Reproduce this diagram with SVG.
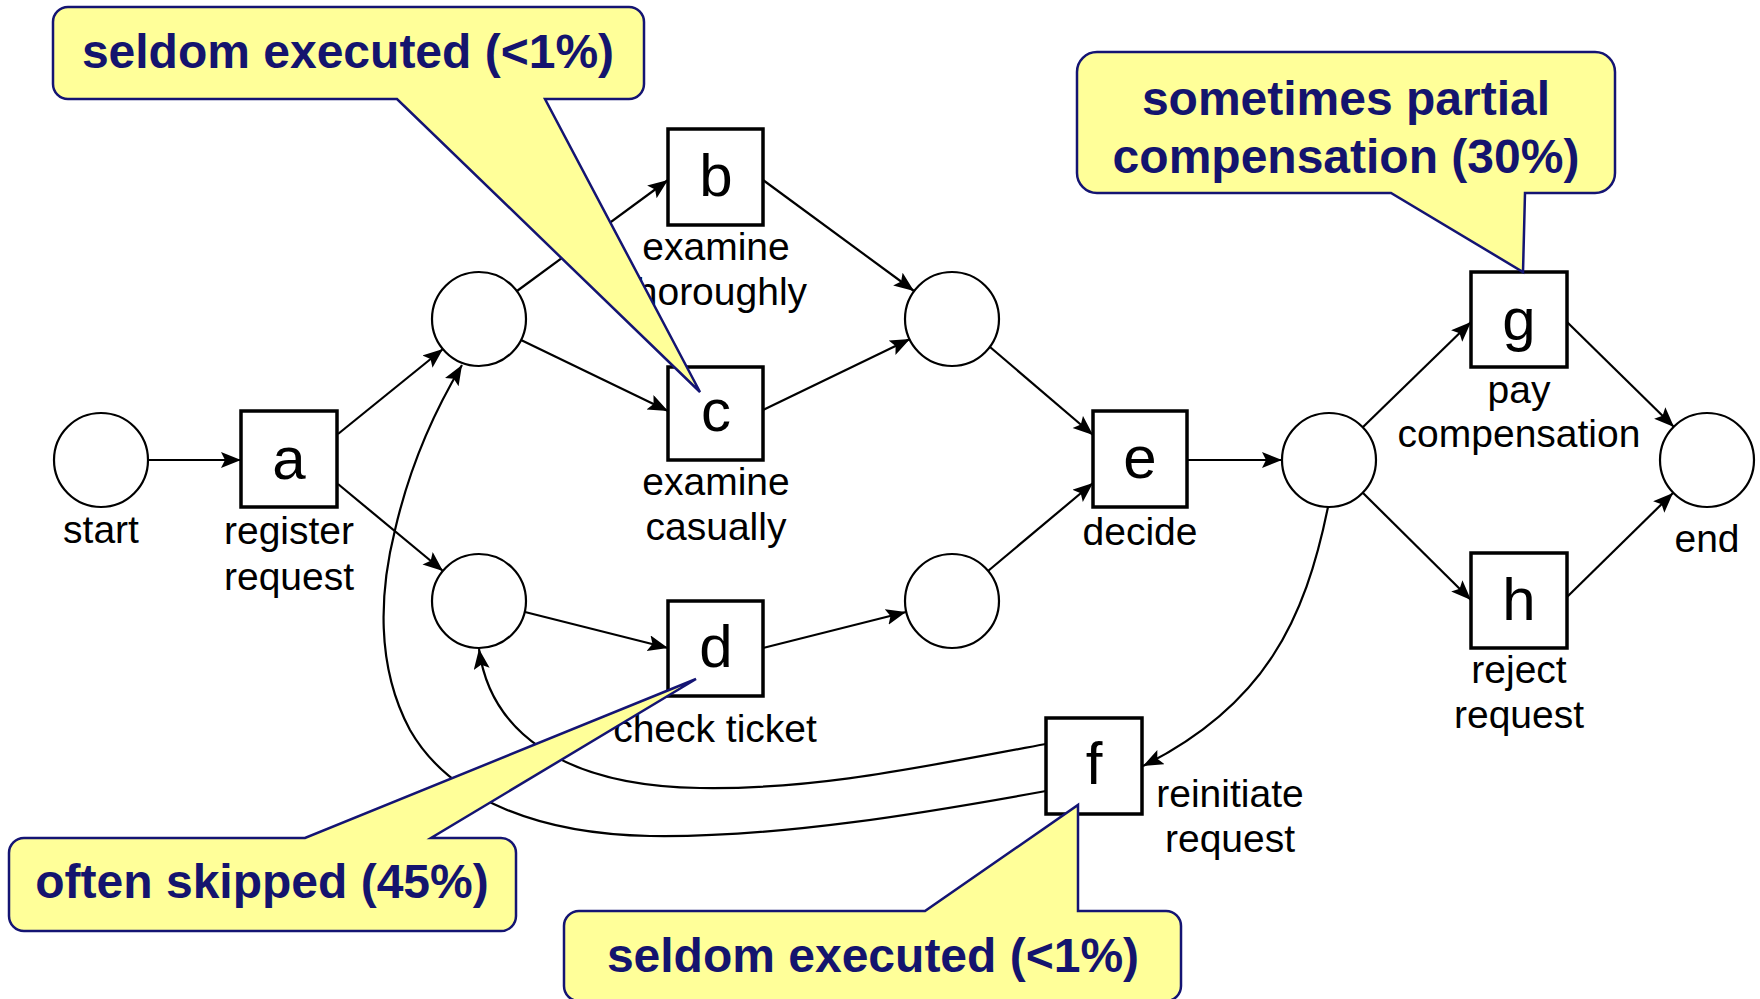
<svg xmlns="http://www.w3.org/2000/svg" width="1760" height="999" viewBox="0 0 1760 999">
<style>
.place{fill:#fff;stroke:#000;stroke-width:2.2}
.trans{fill:#fff;stroke:#000;stroke-width:3.5}
.arc{fill:none;stroke:#000;stroke-width:2.2;marker-end:url(#ah)}
.lbl{font-family:"Liberation Sans",Arial,sans-serif;font-size:39px;fill:#000;text-anchor:middle}
.let{font-family:"Liberation Sans",Arial,sans-serif;font-size:60px;fill:#000;text-anchor:middle}
.call{fill:#FFFF99;stroke:#141473;stroke-width:2.5;stroke-linejoin:miter}
.ct{font-family:"Liberation Sans",Arial,sans-serif;font-size:48px;font-weight:bold;fill:#14146e;text-anchor:middle}
</style>
<defs>
<marker id="ah" markerUnits="userSpaceOnUse" markerWidth="22" markerHeight="18" refX="20" refY="8" orient="auto">
<path d="M0,0 L20,8 L0,16 L4,8 z" fill="#000"/>
</marker>
</defs>
<rect width="1760" height="999" fill="#fff"/>
<g id="connectors">
<path class="arc" d="M148,460 L241,460"/>
<path class="arc" d="M338,434 L443,349"/>
<path class="arc" d="M338,484 L443,571"/>
<path class="arc" d="M517,291 L668,180"/>
<path class="arc" d="M521,340 L668,411"/>
<path class="arc" d="M763,180 L914,291"/>
<path class="arc" d="M763,410 L910,339"/>
<path class="arc" d="M525,612 L668,648"/>
<path class="arc" d="M763,648 L906,612"/>
<path class="arc" d="M990,347 L1093,435"/>
<path class="arc" d="M988,571 L1093,483"/>
<path class="arc" d="M1187,460 L1282,460"/>
<path class="arc" d="M1363,427 L1471,322"/>
<path class="arc" d="M1363,493 L1471,600"/>
<path class="arc" d="M1567,322 L1674,427"/>
<path class="arc" d="M1567,597 L1673,493"/>
<path class="arc" d="M1328,507 C1305,620 1265,705 1143,766"/>
<path class="arc" d="M1046,744 C930,765 820,790 700,788 C560,786 490,730 479,649"/>
<path class="arc" d="M1046,791 C930,812 780,838 650,836 C540,834 450,800 410,730 C375,665 380,590 395,530 C410,465 435,410 462,365"/>
</g>
<g id="start"><circle class="place" cx="101" cy="460" r="47"/><text class="lbl" x="101" y="543">start</text></g>
<g id="p1"><circle class="place" cx="479" cy="319" r="47"/></g>
<g id="p2"><circle class="place" cx="479" cy="601" r="47"/></g>
<g id="p3"><circle class="place" cx="952" cy="319" r="47"/></g>
<g id="p4"><circle class="place" cx="952" cy="601" r="47"/></g>
<g id="p5"><circle class="place" cx="1329" cy="460" r="47"/></g>
<g id="end"><circle class="place" cx="1707" cy="460" r="47"/><text class="lbl" x="1707" y="552">end</text></g>
<g id="a"><rect class="trans" x="241" y="411" width="96" height="96"/><text class="let" x="289" y="479">a</text><text class="lbl" x="289" y="544">register</text><text class="lbl" x="289" y="590">request</text></g>
<g id="b"><rect class="trans" x="668" y="129" width="95" height="96"/><text class="let" x="716" y="196">b</text><text class="lbl" x="716" y="260">examine</text><text class="lbl" x="716" y="305">thoroughly</text></g>
<g id="c"><rect class="trans" x="668" y="367" width="95" height="93"/><text class="let" x="716" y="431">c</text><text class="lbl" x="716" y="495">examine</text><text class="lbl" x="716" y="540">casually</text></g>
<g id="d"><rect class="trans" x="668" y="601" width="95" height="95"/><text class="let" x="716" y="667">d</text><text class="lbl" x="715" y="742">check ticket</text></g>
<g id="e"><rect class="trans" x="1093" y="411" width="94" height="96"/><text class="let" x="1140" y="478">e</text><text class="lbl" x="1140" y="545">decide</text></g>
<g id="f"><rect class="trans" x="1046" y="718" width="96" height="96"/><text class="let" x="1094" y="784">f</text><text class="lbl" x="1230" y="807">reinitiate</text><text class="lbl" x="1230" y="852">request</text></g>
<g id="g"><rect class="trans" x="1471" y="272" width="96" height="95"/><text class="let" x="1519" y="340">g</text><text class="lbl" x="1519" y="403">pay</text><text class="lbl" x="1519" y="447">compensation</text></g>
<g id="h"><rect class="trans" x="1471" y="553" width="96" height="95"/><text class="let" x="1519" y="620">h</text><text class="lbl" x="1519" y="683">reject</text><text class="lbl" x="1519" y="728">request</text></g>
<g id="callout1"><path class="call" d="M68,7 H629 A15,15 0 0 1 644,22 V84 A15,15 0 0 1 629,99 H545 L700,392 L397,99 H68 A15,15 0 0 1 53,84 V22 A15,15 0 0 1 68,7 Z"/><text class="ct" x="348" y="68">seldom executed (&lt;1%)</text></g>
<g id="callout2"><path class="call" d="M1097,52 H1595 A20,20 0 0 1 1615,72 V173 A20,20 0 0 1 1595,193 H1525 L1523,272 L1391,193 H1097 A20,20 0 0 1 1077,173 V72 A20,20 0 0 1 1097,52 Z"/><text class="ct" x="1346" y="115">sometimes partial</text><text class="ct" x="1346" y="173">compensation (30%)</text></g>
<g id="callout3"><path class="call" d="M24,838 H305 L696,679 L431,838 H501 A15,15 0 0 1 516,853 V916 A15,15 0 0 1 501,931 H24 A15,15 0 0 1 9,916 V853 A15,15 0 0 1 24,838 Z"/><text class="ct" x="262" y="898">often skipped (45%)</text></g>
<g id="callout4"><path class="call" d="M579,911 H925 L1078,805 V911 H1166 A15,15 0 0 1 1181,926 V986 A15,15 0 0 1 1166,1001 H579 A15,15 0 0 1 564,986 V926 A15,15 0 0 1 579,911 Z"/><text class="ct" x="873" y="972">seldom executed (&lt;1%)</text></g>
</svg>
